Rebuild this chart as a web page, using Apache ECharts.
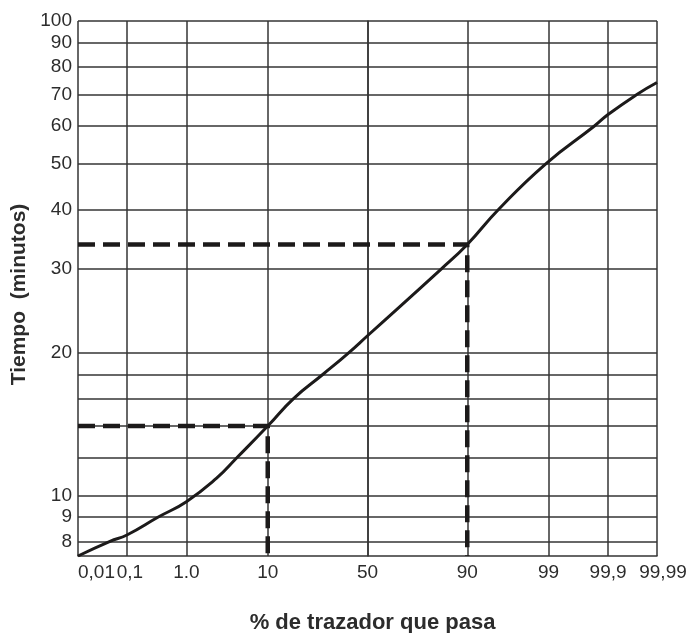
<!DOCTYPE html>
<html>
<head>
<meta charset="utf-8">
<script src="https://cdn.jsdelivr.net/npm/echarts@6/dist/echarts.min.js"></script>
<style>
  html, body { margin: 0; padding: 0; background: #ffffff; }
  #chart { width: 692px; height: 633px; }
</style>
</head>
<body>
<div id="chart"></div>
<script>
// Tracer breakthrough curve on normal-probability paper (x) versus log time (y)

// x axis: cumulative % of tracer passed, ticks and their printed labels
const xTickPercent = [0.01, 0.1, 1, 10, 50, 90, 99, 99.9, 99.99];
const xTickLabels  = ['0,01', '0,1', '1.0', '10', '50', '90', '99', '99,9', '99,99'];

// y axis: time in minutes, grid lines and labelled values
const yGridMinutes  = [8, 9, 10, 12, 14, 16, 18, 20, 30, 40, 50, 60, 70, 80, 90, 100];
const yLabelMinutes = [8, 9, 10, 20, 30, 40, 50, 60, 70, 80, 90, 100];
const yMinMinutes = 7.45;
const yMaxMinutes = 100;

// measured curve: % passed and time (min)
const curvePercent = [0.01, 0.047, 0.1, 0.36, 1, 2.63, 4.66, 10, 17.1, 28.4, 40, 50, 82.8, 90, 95.35, 98.9, 99.82, 99.9, 99.973, 99.99];
const curveMinutes = [7.45, 8, 8.25, 9, 9.7, 10.87, 12, 14, 16, 18, 19.9, 21.7, 30, 33.8, 40, 50, 60, 63.5, 70, 74.2];

// reading guides (dashed): 10 % and 90 % passing times
const guidePercent = [10, 90];
const guideMinutes = [14, 33.8];

// inverse standard normal CDF (Acklam's rational approximation)
function probit(p) {
  const a = [-3.969683028665376e+01, 2.209460984245205e+02, -2.759285104469687e+02, 1.383577518672690e+02, -3.066479806614716e+01, 2.506628277459239e+00];
  const b = [-5.447609879822406e+01, 1.615858368580409e+02, -1.556989798598866e+02, 6.680131188771972e+01, -1.328068155288572e+01];
  const c = [-7.784894002430293e-03, -3.223964580411365e-01, -2.400758277161838e+00, -2.549732539343734e+00, 4.374664141464968e+00, 2.938163982698783e+00];
  const d = [7.784695709041462e-03, 3.224671290700398e-01, 2.445134137142996e+00, 3.754408661907416e+00];
  const pl = 0.02425, ph = 1 - pl;
  let q, r;
  if (p < pl) {
    q = Math.sqrt(-2 * Math.log(p));
    return (((((c[0]*q+c[1])*q+c[2])*q+c[3])*q+c[4])*q+c[5]) / ((((d[0]*q+d[1])*q+d[2])*q+d[3])*q+1);
  }
  if (p <= ph) {
    q = p - 0.5; r = q * q;
    return (((((a[0]*r+a[1])*r+a[2])*r+a[3])*r+a[4])*r+a[5])*q / (((((b[0]*r+b[1])*r+b[2])*r+b[3])*r+b[4])*r+1);
  }
  q = Math.sqrt(-2 * Math.log(1 - p));
  return -(((((c[0]*q+c[1])*q+c[2])*q+c[3])*q+c[4])*q+c[5]) / ((((d[0]*q+d[1])*q+d[2])*q+d[3])*q+1);
}
const px = pct => probit(pct / 100);   // % -> probability-paper coordinate
const ly = min => Math.log10(min);     // minutes -> log coordinate

const xTicks = xTickPercent.map(px);
const xMin = xTicks[0], xMax = xTicks[xTicks.length - 1];
const yMin = ly(yMinMinutes), yMax = ly(yMaxMinutes);

const curveData = curvePercent.map((p, i) => [px(p), ly(curveMinutes[i])]);
const guideLo = [[xMin, ly(guideMinutes[0])], [px(guidePercent[0]), ly(guideMinutes[0])], [px(guidePercent[0]), yMin]];
const guideHi = [[xMin, ly(guideMinutes[1])], [px(guidePercent[1]), ly(guideMinutes[1])], [px(guidePercent[1]), yMin]];

const ink = '#1c1a1a';
const gridInk = '#353535';
const textInk = '#2c2c2c';
const fontFam = '"Liberation Sans", Arial, sans-serif';
const labelFont = { fontFamily: fontFam, fontSize: 19, color: textInk };

const chart = echarts.init(document.getElementById('chart'), null, { renderer: 'canvas' });
chart.setOption({
  backgroundColor: '#ffffff',
  animation: false,
  grid: { left: 78, right: 35, top: 21, bottom: 77, containLabel: false, outerBoundsMode: 'none' },
  xAxis: {
    type: 'value',
    min: xMin,
    max: xMax,
    name: '% de trazador que pasa',
    nameLocation: 'middle',
    nameGap: 56,
    nameTextStyle: { fontFamily: fontFam, fontSize: 22, fontWeight: 'bold', color: textInk, padding: [0, 0, 0, 10] },
    axisLine: { show: true, lineStyle: { color: gridInk, width: 1.5 } },
    axisTick: { show: false, customValues: xTicks },
    axisLabel: Object.assign({
      customValues: xTicks,
      margin: 7,
      alignMinLabel: 'left',
      showMinLabel: true,
      showMaxLabel: true,
      hideOverlap: false,
      rich: {
        nudge: Object.assign({ padding: [0, 0, 0, 6] }, labelFont),
        far: Object.assign({ padding: [0, 0, 0, 12] }, labelFont)
      },
      formatter: v => {
        let best = 0;
        xTicks.forEach((t, i) => { if (Math.abs(t - v) < Math.abs(xTicks[best] - v)) best = i; });
        const txt = xTickLabels[best];
        if (best === 1) return '{nudge|' + txt + '}';
        if (best === xTicks.length - 1) return '{far|' + txt + '}';
        return txt;
      }
    }, labelFont),
    splitLine: { show: true, lineStyle: { color: gridInk, width: 1.5 } }
  },
  yAxis: {
    type: 'value',
    min: yMin,
    max: yMax,
    name: 'Tiempo  (minutos)',
    nameLocation: 'middle',
    nameRotate: 90,
    nameGap: 46,
    nameTextStyle: { fontFamily: fontFam, fontSize: 21, fontWeight: 'bold', color: textInk, padding: [0, 12, 0, 0] },
    axisLine: { show: true, lineStyle: { color: gridInk, width: 1.5 } },
    axisTick: { show: false, customValues: yGridMinutes.map(ly) },
    axisLabel: Object.assign({
      customValues: yLabelMinutes.map(ly),
      margin: 6,
      showMinLabel: true,
      showMaxLabel: true,
      formatter: v => String(Math.round(Math.pow(10, v)))
    }, labelFont),
    splitLine: { show: true, lineStyle: { color: gridInk, width: 1.5 } }
  },
  series: [
    {
      type: 'line',
      data: guideLo,
      symbol: 'none',
      lineStyle: { color: ink, width: 4.5, type: [17, 8] },
      z: 3
    },
    {
      type: 'line',
      data: guideHi,
      symbol: 'none',
      lineStyle: { color: ink, width: 4.5, type: [17, 8] },
      z: 3
    },
    {
      type: 'line',
      data: curveData,
      symbol: 'none',
      smooth: 0.5,
      lineStyle: { color: ink, width: 3 },
      z: 4
    }
  ]
});
</script>
</body>
</html>
